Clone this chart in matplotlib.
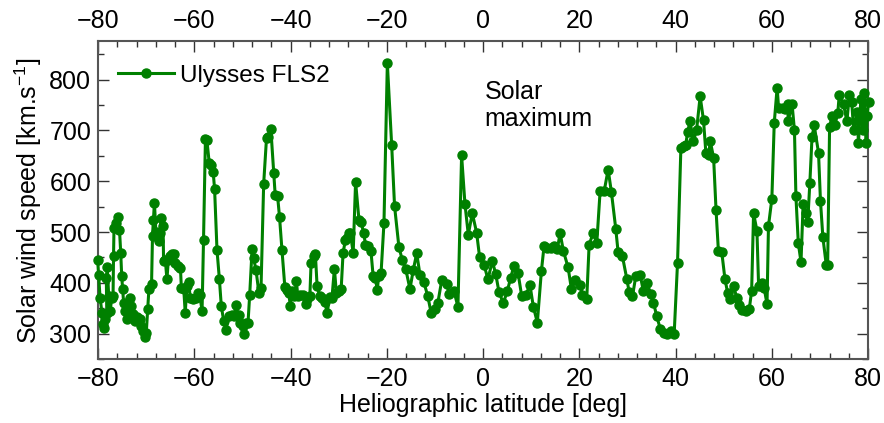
import numpy as np
import matplotlib
matplotlib.use('Agg')
import matplotlib.pyplot as plt
from matplotlib.ticker import MultipleLocator

plt.rcParams['font.family'] = ['Liberation Sans', 'DejaVu Sans']
plt.rcParams['mathtext.fontset'] = 'custom'
plt.rcParams['mathtext.rm'] = 'Liberation Sans'

# Ulysses fast latitude scan 2
latitude = [
    -80.1, -79.9, -79.6, -79.2, -78.9, -78.7, -78.5, -78.2, -78.3, -78.1,
    -77.8, -77.5, -77.15, -76.9, -76.8, -76.7, -76.25, -75.9, -75.56, -75.3,
    -75.1, -74.9, -74.7, -74.4, -74.0, -73.7, -73.3, -73.1, -72.8, -72.4,
    -71.95, -71.4, -71.1, -70.7, -70.35, -70.0, -69.7, -69.45, -68.9, -68.7,
    -68.5, -68.3, -68.0, -67.45, -67.2, -66.9, -66.5, -66.4, -66.05, -65.7,
    -65.4, -65.0, -64.7, -64.3, -64.0, -63.5, -62.9, -62.7, -62.2, -61.9,
    -61.55, -61.2, -60.85, -60.2, -59.6, -59.3, -58.9, -58.4, -58.1, -57.7,
    -57.4, -56.9, -56.5, -56.1, -55.8, -55.3, -54.8, -54.4, -53.9, -53.4,
    -52.9, -52.2, -51.7, -51.4, -50.8, -50.5, -49.9, -49.6, -49.2, -48.85,
    -48.5, -48.0, -47.7, -47.2, -46.6, -46.15, -45.6, -45.0, -44.6, -44.1,
    -43.5, -43.2, -42.7, -42.3, -41.8, -41.2, -40.75, -40.4, -40.05, -39.7,
    -39.2, -38.8, -38.5, -38.0, -37.4, -36.9, -36.6, -36.0, -35.75, -35.2,
    -34.85, -34.5, -33.95, -33.5, -32.9, -32.4, -31.9, -31.4, -30.9, -30.5,
    -30.0, -29.5, -29.1, -28.6, -28.3, -27.9, -27.6, -27.0, -26.5, -25.8,
    -25.35, -24.8, -24.45, -23.95, -23.3, -22.85, -22.4, -22.0, -21.7, -21.2,
    -20.6, -19.9, -19.0, -18.4, -17.5, -16.8, -16.1, -15.2, -14.5, -13.8,
    -13.1, -12.3, -11.5, -10.8, -10.1, -9.4, -8.6, -7.6, -7.0, -6.06,
    -5.23, -4.47, -3.77, -3.08, -2.25, -1.35, -0.72, 0.18, 1.01, 1.91,
    2.61, 3.30, 4.20, 5.03, 5.73, 6.42, 7.25, 8.02, 8.85, 9.75,
    10.44, 11.27, 12.11, 12.66, 13.36, 14.05, 14.74, 15.44, 16.0, 16.7,
    17.65, 18.35, 19.1, 20.15, 20.64, 21.54, 22.03, 22.86, 23.62, 24.31,
    25.15, 25.98, 26.67, 27.57, 28.06, 28.96, 29.86, 30.35, 31.04, 31.73,
    32.63, 33.3, 34.0, 34.85, 35.4, 36.1, 36.8, 37.6, 38.3, 39.0,
    39.7, 40.4, 41.1, 41.65, 42.1, 42.5, 43.0, 43.7, 44.35, 45.1,
    45.8, 46.3, 46.85, 47.2, 47.9, 48.4, 48.9, 49.6, 50.25, 50.8,
    51.4, 52.05, 52.7, 53.2, 53.9, 54.6, 55.3, 55.8, 56.2, 56.9,
    57.25, 57.9, 58.4, 59.0, 59.3, 60.0, 60.5, 61.1, 61.4, 62.25,
    62.7, 63.3, 63.4, 64.2, 64.7, 65.0, 65.5, 66.06, 66.5, 67.1,
    67.45, 67.9, 68.35, 68.8, 69.7, 70.1, 70.6, 71.3, 71.6, 72.0,
    72.5, 73.1, 73.7, 74.0, 74.9, 75.6, 76.1, 76.6, 77.0, 77.7,
    78.0, 78.5, 78.9, 79.2, 79.6, 79.8, 80.1,
]
speed = [
    446, 416, 371, 341, 319, 312, 328, 341, 410, 431,
    374, 345, 371, 374, 452, 508, 518, 529, 505, 458,
    413, 387, 361, 345, 328, 351, 371, 354, 338, 325,
    332, 328, 315, 306, 293, 301, 349, 387, 397, 493,
    524, 558, 501, 482, 498, 527, 511, 443, 446, 407,
    446, 452, 456, 456, 439, 433, 430, 390, 387, 341,
    394, 401, 371, 368, 371, 381, 377, 345, 484, 684,
    681, 635, 632, 619, 585, 465, 407, 354, 325, 307,
    335, 336, 335, 356, 336, 322, 315, 299, 322, 322,
    377, 467, 449, 426, 381, 390, 595, 686, 688, 702,
    617, 572, 570, 529, 465, 392, 386, 381, 354, 384,
    374, 403, 374, 377, 377, 358, 368, 374, 439, 452,
    456, 394, 374, 371, 362, 341, 372, 371, 428, 381,
    384, 387, 459, 485, 488, 498, 499, 459, 599, 524,
    519, 498, 475, 472, 462, 413, 410, 386, 413, 420,
    518, 832, 671, 551, 471, 445, 428, 388, 426, 458,
    415, 401, 374, 341, 348, 361, 405, 397, 379, 384,
    353, 651, 555, 495, 537, 499, 450, 436, 407, 443,
    418, 382, 360, 384, 410, 434, 420, 374, 377, 395,
    353, 322, 423, 472, 469, 469, 472, 467, 498, 462,
    431, 388, 405, 395, 377, 369, 475, 498, 478, 580,
    580, 623, 578, 506, 460, 452, 408, 382, 374, 413,
    416, 384, 400, 379, 361, 334, 310, 301, 299, 306,
    299, 439, 666, 669, 671, 697, 718, 679, 700, 767,
    720, 655, 651, 679, 646, 544, 462, 460, 408, 381,
    368, 394, 371, 356, 347, 345, 348, 384, 537, 503,
    394, 400, 390, 358, 512, 565, 715, 784, 745, 745,
    742, 751, 718, 752, 700, 571, 478, 441, 555, 537,
    519, 597, 687, 710, 656, 562, 490, 436, 436, 707,
    728, 710, 734, 769, 751, 718, 769, 756, 700, 736,
    675, 762, 700, 773, 675, 728, 756,
]

fig = plt.figure(figsize=(8.84, 4.23), dpi=100)
ax = fig.add_axes([0.111, 0.151, 0.871, 0.751])

ax.plot(latitude, speed, color='#008000', lw=2.2, marker='o', ms=6.5,
        label='Ulysses FLS2', clip_on=False, zorder=3)

ax.set_xlim(-80, 80)
ax.set_ylim(250, 875)
ax.xaxis.set_major_locator(MultipleLocator(20))
ax.xaxis.set_minor_locator(MultipleLocator(4))
ax.yaxis.set_major_locator(MultipleLocator(100))
ax.yaxis.set_minor_locator(MultipleLocator(50))
ax.tick_params(which='both', direction='in', top=True, right=True,
               labeltop=True, labelsize=18, color='#333333')
ax.tick_params(which='major', length=8, width=1)
ax.tick_params(which='minor', length=4, width=1)
ax.tick_params(axis='x', pad=6)
ax.tick_params(axis='y', pad=5)
for s in ax.spines.values():
    s.set_color('#555555')
    s.set_linewidth(1.5)

ax.set_xlabel('Heliographic latitude [deg]', fontsize=18, labelpad=1)
ax.set_ylabel(r'Solar wind speed [km.s$^{-1}$]', fontsize=18, labelpad=4)

ax.text(0.3, 800, 'Solar\nmaximum', fontsize=18, va='top', ha='left')

ax.legend(loc='upper left', frameon=False, fontsize=17.5, handlelength=2.3,
          handletextpad=0.25, borderaxespad=0.5, bbox_to_anchor=(-0.003, 0.995))

fig.savefig('out.png', dpi=100)
